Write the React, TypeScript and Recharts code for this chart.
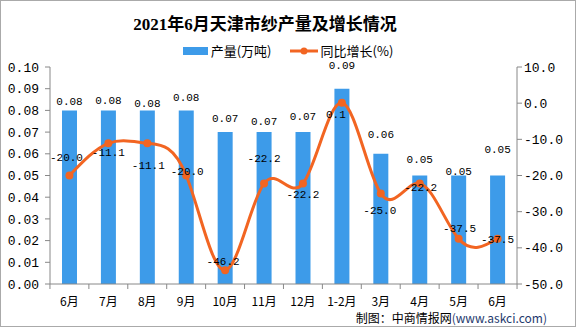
import {
    ComposedChart,
    Bar,
    Line,
    XAxis,
    YAxis,
    LabelList,
} from 'recharts';

// 月份
const categories = ['6月', '7月', '8月', '9月', '10月', '11月', '12月', '1-2月', '3月', '4月', '5月', '6月'];
// 产量(万吨)
const output = [0.08, 0.08, 0.08, 0.08, 0.07, 0.07, 0.07, 0.09, 0.06, 0.05, 0.05, 0.05];
// 同比增长(%)
const growth = [-20.0, -11.1, -11.1, -20.0, -46.2, -22.2, -22.2, 0.1, -25.0, -22.2, -37.5, -37.5];

const leftTicks = [0, 0.01, 0.02, 0.03, 0.04, 0.05, 0.06, 0.07, 0.08, 0.09, 0.1];
const rightTicks = [-50, -40, -30, -20, -10, 0, 10];

// label nudges (px), the source chart places them by hand
const outputLabelLift = [8, 9, 6, 12, 13, 10, 15, 23, 19, 16, 4, 26];
const growthLabelShift = [[-3, -18], [0, 10], [1, 23], [1, -4], [-2, -8], [0, -24], [0, 12], [-6, 12], [-1, 17], [1, 5], [1, -10], [0, 1]];

const W = 576;
const H = 327;
const LEFT_W = 50;
const RIGHT_W = 58;
const STEP = (W - LEFT_W - RIGHT_W) / categories.length;

const BLUE = '#3d9be9';
const ORANGE = '#f26522';
const AXIS = '#888';
const MONO = '"Liberation Mono", "DejaVu Sans Mono", monospace';
const CJK = '"Noto Sans CJK SC", sans-serif';
const TITLE_FONT = '"Liberation Serif", "Noto Sans CJK SC", serif';

const data = categories.map((name, i) => ({name, output: output[i], growth: growth[i]}));

const XTick = (props: any) => {
    const {x, y, payload, index} = props;
    return (
        <g>
            <line x1={x - STEP / 2} y1={y} x2={x - STEP / 2} y2={y + 5} stroke={AXIS} />
            {index === categories.length - 1 && (
                <line x1={x + STEP / 2} y1={y} x2={x + STEP / 2} y2={y + 5} stroke={AXIS} />
            )}
            <text x={x} y={y + 16} textAnchor="middle" dominantBaseline="central" fontSize={12} fontFamily={CJK} fill="#000">
                {payload.value}
            </text>
        </g>
    );
};

const BarLabel = (props: any) => {
    const {x, y, width, value, index} = props;
    return (
        <text x={x + width / 2} y={y - outputLabelLift[index]} textAnchor="middle" dominantBaseline="central" fontSize={11} fontFamily={MONO} fill="#000">
            {Number(value).toFixed(2)}
        </text>
    );
};

const LineLabel = (props: any) => {
    const {x, y, value, index} = props;
    const [dx, dy] = growthLabelShift[index];
    return (
        <text x={x + dx} y={y + dy} textAnchor="middle" dominantBaseline="central" fontSize={11} fontFamily={MONO} fill="#000">
            {Number(value).toFixed(1)}
        </text>
    );
};

const LegendRow = () => (
    <div style={{position: 'absolute', top: 40, left: 0, width: W - 2, display: 'flex', justifyContent: 'center', alignItems: 'center', fontFamily: CJK, fontSize: 13, color: '#000'}}>
        <span style={{display: 'inline-block', width: 25, height: 8, background: BLUE, marginRight: 3}} />
        <span>产量(万吨)</span>
        <svg width={28} height={10} style={{marginLeft: 18, marginRight: 3}}>
            <line x1={0} y1={5} x2={28} y2={5} stroke={ORANGE} strokeWidth={3} />
            <circle cx={14} cy={5} r={3.5} fill={ORANGE} />
        </svg>
        <span>同比增长(%)</span>
    </div>
);

export default function App() {
    return (
        <div style={{position: 'absolute', left: 0, top: 0, width: W, height: H, background: '#fff', boxSizing: 'border-box', border: '1px solid #aaa', overflow: 'hidden'}}>
            <div style={{position: 'absolute', top: 9, left: 0, width: 528, textAlign: 'center', fontFamily: TITLE_FONT, fontWeight: 700, fontSize: 17, color: '#000'}}>
                2021年6月天津市纱产量及增长情况
            </div>
            <LegendRow />
            <ComposedChart width={W - 2} height={H - 2} data={data} margin={{top: 66, right: 0, bottom: 12, left: -1}}>
                <XAxis dataKey="name" height={30} tickSize={0} tickMargin={0} tickLine={false} tick={<XTick />} stroke={AXIS} interval={0} />
                <YAxis
                    yAxisId="left"
                    width={LEFT_W}
                    domain={[0, 0.1]}
                    ticks={leftTicks}
                    interval={0}
                    tickFormatter={(v: number) => v.toFixed(2)}
                    stroke={AXIS}
                    tickSize={5}
                    tickMargin={6}
                    tick={{fill: '#000', fontSize: 13, fontFamily: MONO}}
                />
                <YAxis
                    yAxisId="right"
                    orientation="right"
                    width={RIGHT_W}
                    domain={[-50, 10]}
                    ticks={rightTicks}
                    interval={0}
                    tickFormatter={(v: number) => v.toFixed(1)}
                    stroke={AXIS}
                    tickSize={5}
                    tickMargin={2}
                    tick={{fill: '#000', fontSize: 13, fontFamily: MONO}}
                />
                <Bar yAxisId="left" dataKey="output" fill={BLUE} barSize={15} isAnimationActive={false}>
                    <LabelList dataKey="output" content={<BarLabel />} />
                </Bar>
                <Line
                    yAxisId="right"
                    type="natural"
                    dataKey="growth"
                    stroke={ORANGE}
                    strokeWidth={3}
                    dot={{r: 4, fill: ORANGE, stroke: ORANGE, strokeWidth: 0}}
                    isAnimationActive={false}
                >
                    <LabelList dataKey="growth" content={<LineLabel />} />
                </Line>
            </ComposedChart>
            <div style={{position: 'absolute', right: 28, top: 309, fontFamily: CJK, fontSize: 12, lineHeight: '16px', color: '#000', whiteSpace: 'nowrap'}}>
                制图：中商情报网<span style={{color: '#1f3a6e'}}>(www.askci.com)</span>
            </div>
        </div>
    );
}
